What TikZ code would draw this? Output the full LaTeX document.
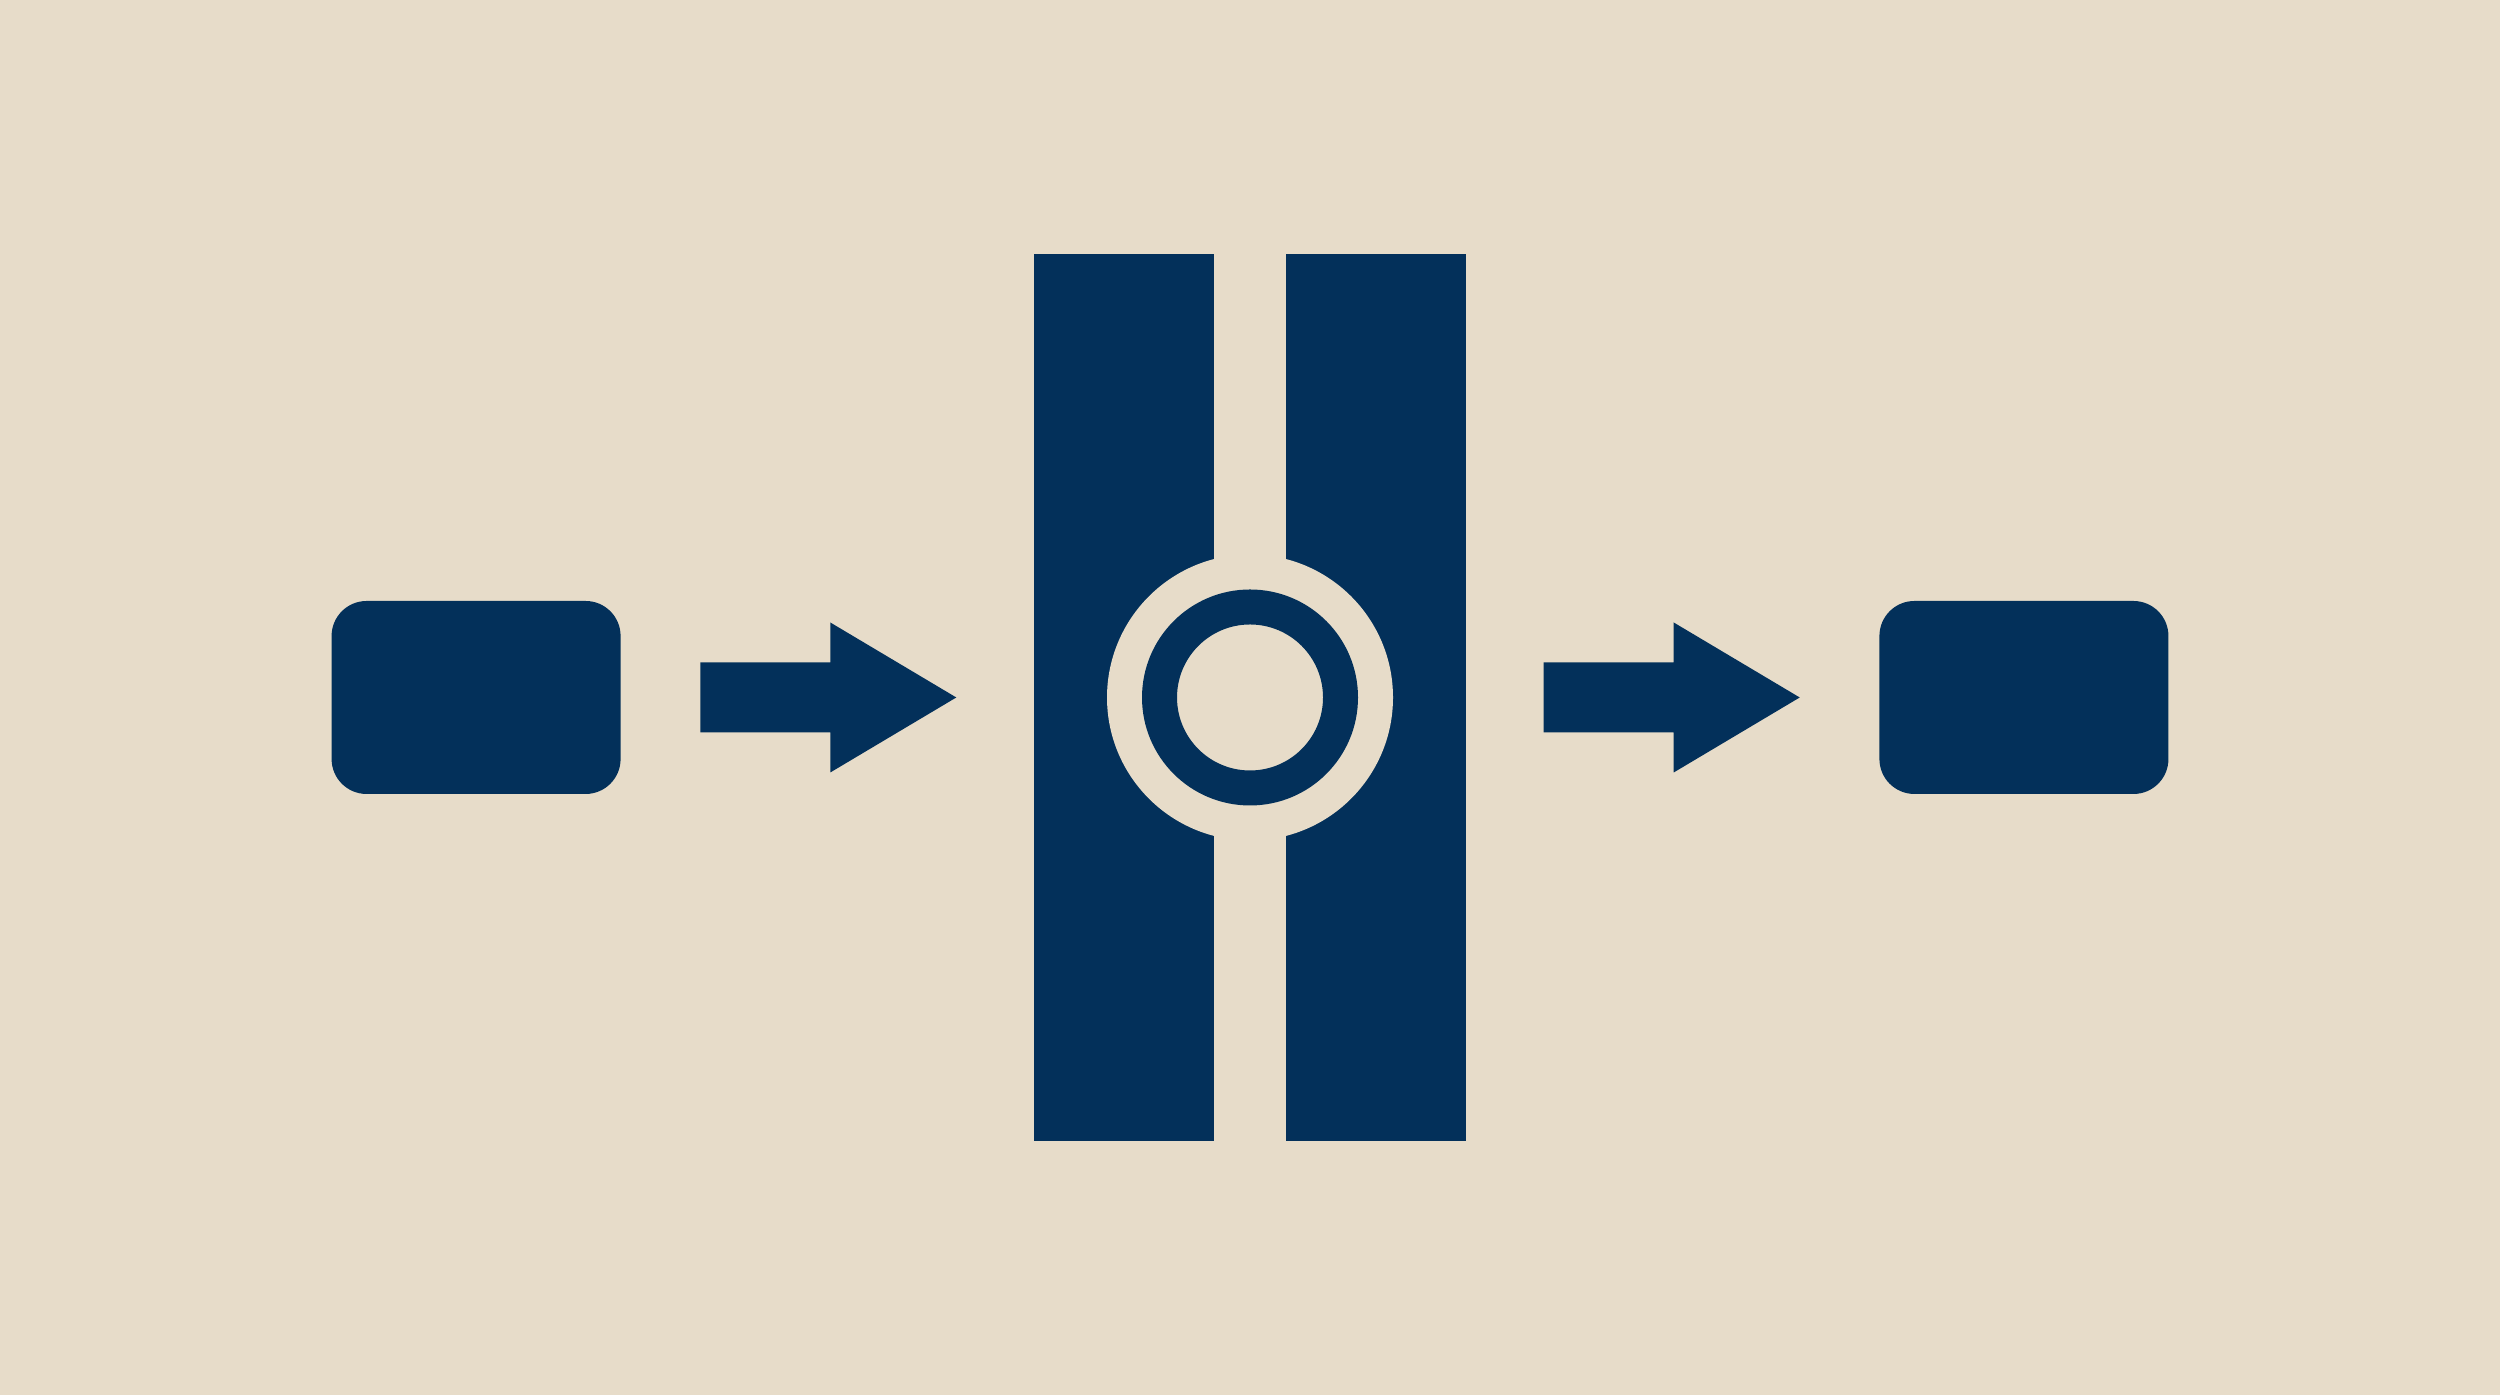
\documentclass[tikz,border=0pt]{standalone}
\usetikzlibrary{positioning,calc}

\definecolor{ink}{RGB}{3,48,90}
\definecolor{paper}{RGB}{231,220,201}

\begin{document}
\begin{tikzpicture}[
            node distance=4.13cm,
            block/.style={rectangle, fill=ink, rounded corners=0.35cm, minimum width=2.89cm, minimum height=1.93cm, inner sep=0pt},
            gatebox/.style={rectangle, minimum width=4.30cm, minimum height=8.85cm, inner sep=0pt},
            bar/.style={fill=ink},
            hole/.style={fill=paper}
        ]
            % Background
            \fill[paper] (0,0) rectangle (25,13.95);
            \useasboundingbox (0,0) rectangle (25,13.95);

            % Gate in the middle
            \node[gatebox] (gate) at (12.5,6.975) {};
            \fill[bar] (gate.north west) rectangle ([xshift=1.80cm]gate.south west);
            \fill[bar] ([xshift=-1.80cm]gate.north east) rectangle (gate.south east);
            \fill[hole] (gate.center) circle (1.43);
            \fill[bar, even odd rule] (gate.center) circle (1.08) circle (0.73);

            % Source and target
            \node[block, left=of gate] (src) {};
            \node[block, right=of gate] (dst) {};

            % Arrows
            \coordinate (a1s) at ([xshift=0.79cm]src.east);
            \coordinate (a1e) at ([xshift=-0.78cm]gate.west);
            \coordinate (a2s) at ([xshift=0.78cm]gate.east);
            \coordinate (a2e) at ([xshift=-0.79cm]dst.west);
            \foreach \s/\e in {a1s/a1e, a2s/a2e}
                \fill[bar] (\s) ++(0,0.35) -- ++(1.30,0) -- ++(0,0.40) -- (\e) -- ++(-1.26,-0.75) -- ++(0,0.40) -- ++(-1.30,0) -- cycle;
        \end{tikzpicture}
\end{document}
